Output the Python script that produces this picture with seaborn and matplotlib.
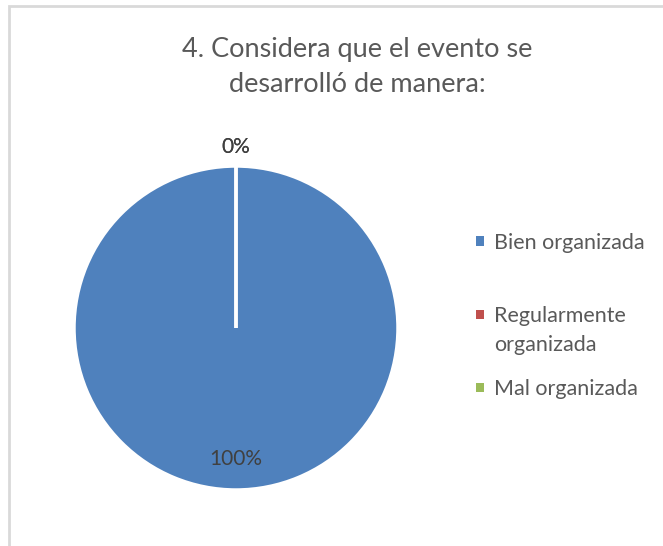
import matplotlib
matplotlib.use("Agg")
import matplotlib.pyplot as plt
import matplotlib.patches as mpatches
import seaborn as sns
import numpy as np

categories = ["Bien organizada", "Regularmente\norganizada", "Mal organizada"]
values = [100, 0, 0]
pct_labels = ["100%", "0%", "0%"]
colors = ["#4F81BD", "#C0504D", "#9BBB59"]
title = "4. Considera que el evento se\ndesarrolló de manera:"

sns.set_theme(style="white")
plt.rcParams['font.family'] = ['Lato', 'DejaVu Sans']

W, H = 663, 546
fig = plt.figure(figsize=(W / 100, H / 100), dpi=100)
fig.patch.set_facecolor("white")

# chart border (only top and left visible in the crop)
border = mpatches.Rectangle((9 / W, -0.1), 1.2, 1.1 - 5.5 / H,
                            transform=fig.transFigure, fill=False,
                            edgecolor="#D9D9D9", linewidth=2, clip_on=False)
fig.add_artist(border)

cx, cy, r = 236, 546 - 328, 162
ax = fig.add_axes([(cx - r) / W, (cy - r) / H, 2 * r / W, 2 * r / H])
wedges, _ = ax.pie(values, colors=colors, startangle=90, counterclock=False,
                   radius=1.0, wedgeprops=dict(edgecolor="white", linewidth=2.5))
ax.set_xlim(-1, 1)
ax.set_ylim(-1, 1)
ax.set_aspect("equal")
ax.axis("off")

for w, lab, v in zip(wedges, pct_labels, values):
    mid = np.deg2rad((w.theta1 + w.theta2) / 2)
    d = 0.81 if v > 0 else 1.12
    ax.text(d * np.cos(mid), d * np.sin(mid), lab, ha="center", va="center",
            fontsize=15, color="#404040", clip_on=False)

fig.text(357 / W, 1 - 67 / H, title, ha="center", va="center",
         fontsize=19.5, color="#595959", linespacing=1.5)

# legend: square marker aligned with first text line
legend_y = [241, 314, 387]
line_h = 29
for cat, c, y in zip(categories, colors, legend_y):
    sq = 9
    fig.add_artist(mpatches.Rectangle(((480 - sq / 2) / W, 1 - (y + sq / 2) / H),
                                      sq / W, sq / H, transform=fig.transFigure,
                                      facecolor=c, edgecolor="none"))
    for k, line in enumerate(cat.split("\n")):
        fig.text(494 / W, 1 - (y + k * line_h) / H, line, ha="left",
                 va="center_baseline", fontsize=15.5, color="#595959")

fig.savefig("out.png", dpi=100, facecolor="white")
